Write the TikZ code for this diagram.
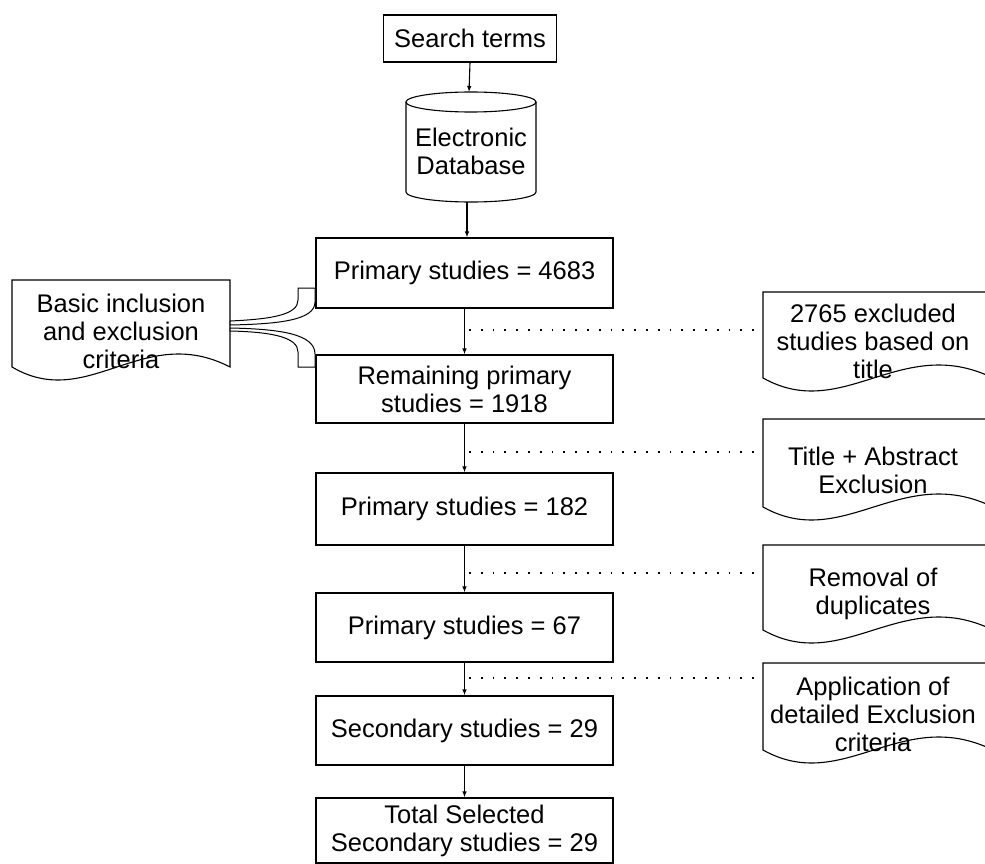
\documentclass[tikz,border=0pt]{standalone}
\usepackage{fontspec}
\setmainfont{Liberation Sans}
\usetikzlibrary{arrows.meta}
\newcommand{\myfs}{\fontsize{25.5}{28}\selectfont}
\newcommand{\docshape}[4]{\draw[fill=white] (#1,#4) -- (#1,#2) -- (#3,#2) -- (#3,#4) .. controls ({#1+0.6*(#3-#1)},{#4-45}) and ({#1+0.35*(#3-#1)},{#4+45}) .. (#1,#4) -- cycle;}
\begin{document}
\begin{tikzpicture}[x=1pt,y=-1pt,line width=1.1pt,
  box/.style={draw,rectangle,inner sep=0pt,minimum width=297pt,align=center,font=\myfs},
  arr/.style={-{Latex[length=6pt,width=4.5pt]}},
  dotline/.style={dash pattern=on 1.8pt off 10pt,line width=1.4pt},
  txt/.style={align=center,font=\myfs,inner sep=0pt}]
\clip (0,0) rectangle (985,864);
\fill[white] (0,0) rectangle (985,864);

% search terms and database
\node[box,minimum width=173pt,minimum height=47pt] (st) at (470,38.5) {Search terms};
\draw[fill=white] (406,102) -- (406,192) arc[start angle=180,end angle=360,x radius=65pt,y radius=10pt] -- (536,102);
\draw (471,102) ellipse [x radius=65pt,y radius=10pt];
\node[txt] (db) at (471,151.5) {Electronic\\Database};
\coordinate (dbtop) at (469,92);
\coordinate (dbbot) at (467,202);

% main column
\node[box,minimum height=70pt] (p1) at (464.5,273) {Primary studies = 4683};
\node[box,minimum height=68pt] (p2) at (464.5,389) {Remaining primary\\studies = 1918};
\node[box,minimum height=72pt] (p3) at (464.5,509) {Primary studies = 182};
\node[box,minimum height=69pt] (p4) at (464.5,627.5) {Primary studies = 67};
\node[box,minimum height=69pt] (p5) at (464.5,730.5) {Secondary studies = 29};
\node[box,minimum height=65pt] (p6) at (464.5,830.5) {Total Selected\\Secondary studies = 29};

% documents
\docshape{12}{280}{230}{367}
\docshape{763}{292}{993}{378}
\docshape{763}{419}{993}{507}
\docshape{763}{545}{993}{630}
\docshape{763}{663}{993}{750}
\node[txt] (d0) at (121,331.5) {Basic inclusion\\and exclusion\\criteria};
\node[txt] (d1) at (873,341.5) {2765 excluded\\studies based on\\title};
\node[txt] (d2) at (873,470.5) {Title + Abstract\\Exclusion};
\node[txt] (d3) at (873,593.5) {Removal of\\duplicates};
\node[txt] (d4) at (873,714) {Application of\\detailed Exclusion\\criteria};

% brace connector
\draw[fill=white,line width=1pt] (230,321) .. controls (275,319) and (298,314) .. (298,300) -- (298,288) -- (315,288) -- (315,302) .. controls (315,320) and (280,324) .. (230,325) -- cycle;
\draw[fill=white,line width=1pt] (230,328) .. controls (280,329) and (315,334) .. (315,354) -- (315,367) -- (298,367) -- (298,352) .. controls (298,338) and (275,332) .. (230,331) -- cycle;

% arrows
\draw[arr] (st.south) -- (dbtop);
\draw[arr] (dbbot) -- (dbbot |- p1.north);
\draw[arr] (p1) -- (p2);
\draw[arr] (p2) -- (p3);
\draw[arr] (p3) -- (p4);
\draw[arr] (p4) -- (p5);
\draw[arr] (p5) -- (p6);

% dotted lines
\coordinate (c1) at (469,330); \coordinate (e1) at (763,330);
\coordinate (c2) at (469,452); \coordinate (e2) at (763,452);
\coordinate (c3) at (469,573); \coordinate (e3) at (763,573);
\coordinate (c4) at (469,678); \coordinate (e4) at (763,678);
\draw[dotline] (c1) -- (e1);
\draw[dotline] (c2) -- (e2);
\draw[dotline] (c3) -- (e3);
\draw[dotline] (c4) -- (e4);
\end{tikzpicture}
\end{document}
